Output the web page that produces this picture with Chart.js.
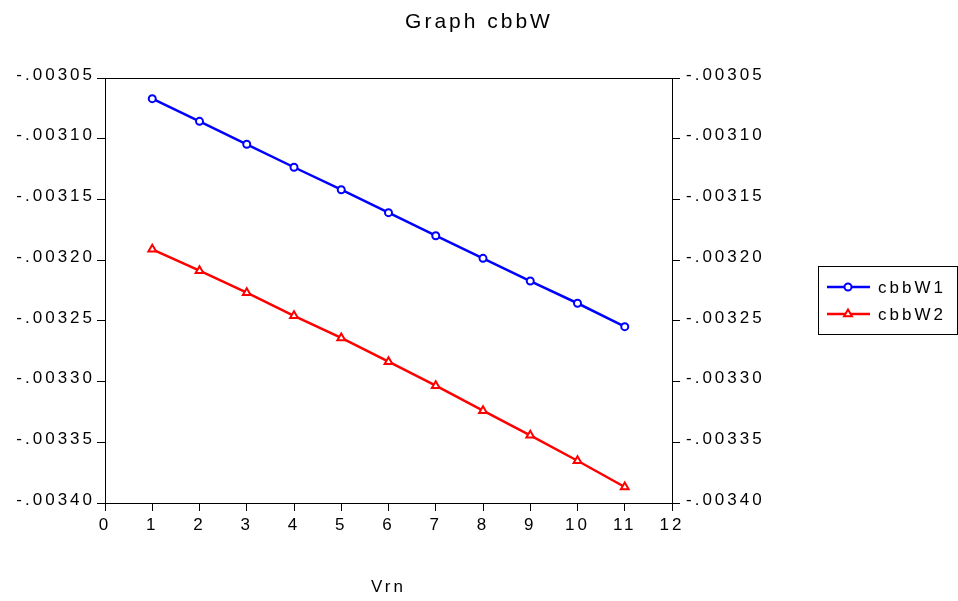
<!DOCTYPE html>
<html lang="en">
<head>
<meta charset="UTF-8">
<title>Graph cbbW</title>
<script src="https://cdn.jsdelivr.net/npm/chart.js"></script>
<style>
  body { margin: 0; background: #fff; }
  canvas { display: block; }
</style>
</head>
<body>
<canvas id="cbbwChart" width="958" height="601"></canvas>
<script>
// values
const vrn = [1, 2, 3, 4, 5, 6, 7, 8, 9, 10, 11];
const cbbW1 = [-0.0030670, -0.0030857, -0.0031046, -0.0031235, -0.0031420, -0.0031609,
               -0.0031799, -0.0031985, -0.0032172, -0.0032355, -0.0032548];
const cbbW2 = [-0.0031911, -0.0032087, -0.0032268, -0.0032458, -0.0032641, -0.0032836,
               -0.0033034, -0.0033240, -0.0033443, -0.0033652, -0.0033868];
const yTicks = [-0.00340, -0.00335, -0.00330, -0.00325, -0.00320, -0.00315, -0.00310, -0.00305];
const yTickLabels = ['-.00340', '-.00335', '-.00330', '-.00325', '-.00320', '-.00315', '-.00310', '-.00305'];
const xTicks = [0, 1, 2, 3, 4, 5, 6, 7, 8, 9, 10, 11, 12];

const FONT = '"Liberation Sans", Arial, sans-serif';

// the original text is drawn wide, so space the letters out a bit
const spacing = {
  id: 'spacing',
  beforeLayout(chart) { chart.ctx.letterSpacing = '3px'; },
  beforeDraw(chart) { chart.ctx.letterSpacing = '3px'; }
};

// closed box around the plot area
const frame = {
  id: 'frame',
  beforeDatasetsDraw(chart) {
    const a = chart.chartArea, ctx = chart.ctx;
    ctx.save();
    ctx.strokeStyle = '#000';
    ctx.lineWidth = 1;
    ctx.strokeRect(Math.round(a.left) + 0.5, Math.round(a.top) + 0.5,
                   Math.round(a.right - a.left), Math.round(a.bottom - a.top));
    ctx.restore();
  }
};

// legend box on the right, line + marker + name
const boxLegend = {
  id: 'boxLegend',
  afterDraw(chart) {
    const ctx = chart.ctx;
    ctx.save();
    ctx.strokeStyle = '#000';
    ctx.lineWidth = 1;
    ctx.strokeRect(818.5, 266.5, 139, 68);
    chart.data.datasets.forEach((ds, i) => {
      const y = 287 + i * 27;
      ctx.strokeStyle = ds.borderColor;
      ctx.lineWidth = 2.5;
      ctx.beginPath();
      ctx.moveTo(827, y);
      ctx.lineTo(870, y);
      ctx.stroke();
      ctx.fillStyle = '#fff';
      ctx.lineWidth = ds.pointBorderWidth;
      ctx.beginPath();
      const r = ds.pointRadius;
      if (ds.pointStyle === 'triangle') {
        ctx.moveTo(848, y - r);
        ctx.lineTo(848 + r * 0.866, y + r * 0.5);
        ctx.lineTo(848 - r * 0.866, y + r * 0.5);
        ctx.closePath();
      } else {
        ctx.arc(848, y, r, 0, Math.PI * 2);
      }
      ctx.fill();
      ctx.stroke();
      ctx.fillStyle = '#000';
      ctx.font = '17px ' + FONT;
      ctx.textBaseline = 'middle';
      ctx.textAlign = 'left';
      ctx.fillText(ds.label, 878, y + 1);
    });
    ctx.restore();
  }
};

const yAxis = (pos, width) => ({
  type: 'linear',
  position: pos,
  min: yTicks[0],
  max: yTicks[yTicks.length - 1],
  afterBuildTicks: scale => { scale.ticks = yTicks.map(v => ({ value: v })); },
  afterFit: scale => { scale.width = width; },
  grid: { drawOnChartArea: false, drawTicks: true, tickLength: 8, color: '#000', lineWidth: 1 },
  border: { display: true, color: '#000', width: 1 },
  ticks: {
    color: '#000',
    font: { family: FONT, size: 17 },
    padding: pos === 'left' ? 2 : 6,
    labelOffset: -3,
    callback: (value, index) => yTickLabels[index]
  }
});

new Chart(document.getElementById('cbbwChart'), {
  type: 'line',
  data: {
    datasets: [
      {
        label: 'cbbW1',
        data: vrn.map((x, i) => ({ x: x, y: cbbW1[i] })),
        borderColor: '#0000ff',
        backgroundColor: '#ffffff',
        borderWidth: 2.5,
        pointStyle: 'circle',
        pointRadius: 3.5,
        pointBorderWidth: 2,
        pointBackgroundColor: '#ffffff',
        pointBorderColor: '#0000ff',
        yAxisID: 'y'
      },
      {
        label: 'cbbW2',
        data: vrn.map((x, i) => ({ x: x, y: cbbW2[i] })),
        borderColor: '#ff0000',
        backgroundColor: '#ffffff',
        borderWidth: 2.5,
        pointStyle: 'triangle',
        pointRadius: 4.5,
        pointBorderWidth: 2,
        pointBackgroundColor: '#ffffff',
        pointBorderColor: '#ff0000',
        yAxisID: 'y'
      }
    ]
  },
  options: {
    responsive: false,
    animation: false,
    events: [],
    layout: { padding: 0 },
    plugins: {
      legend: { display: false },
      tooltip: { enabled: false },
      title: {
        display: true,
        text: 'Graph cbbW',
        color: '#000',
        font: { family: FONT, size: 21, weight: 'normal', lineHeight: '24px' },
        padding: { top: 10, bottom: 44 }
      }
    },
    scales: {
      x: {
        type: 'linear',
        min: xTicks[0],
        max: xTicks[xTicks.length - 1],
        afterBuildTicks: scale => { scale.ticks = xTicks.map(v => ({ value: v })); },
        afterFit: scale => { scale.height = 98; },
        grid: { drawOnChartArea: false, drawTicks: true, tickLength: 8, color: '#000', lineWidth: 1 },
        border: { display: true, color: '#000', width: 1 },
        ticks: { color: '#000', font: { family: FONT, size: 17 }, padding: 4, maxRotation: 0 },
        title: {
          display: true,
          text: 'Vrn',
          color: '#000',
          font: { family: FONT, size: 17 },
          padding: { top: 0, bottom: 3 }
        }
      },
      y: yAxis('left', 105),
      // right axis is wide enough to leave room for the legend box
      y2: yAxis('right', 286)
    }
  },
  plugins: [spacing, frame, boxLegend]
});
</script>
</body>
</html>
